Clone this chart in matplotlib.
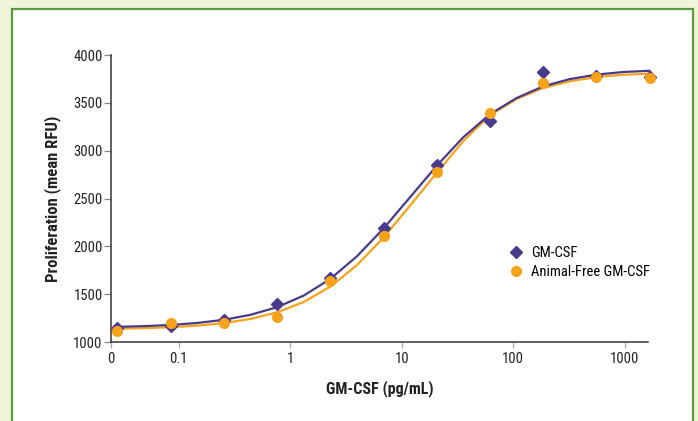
import matplotlib.pyplot as plt
import matplotlib.patches as patches
from matplotlib.ticker import FixedLocator, NullLocator
from matplotlib import font_manager

# 数据
conc = [0.0282, 0.0847, 0.254, 0.762, 2.29, 6.86, 20.6, 61.7, 185, 556, 1667]
gm_csf = [1150, 1167, 1230, 1397, 1672, 2189, 2850, 3310, 3820, 3778, 3765]
af_gm_csf = [1115, 1195, 1195, 1258, 1638, 2108, 2780, 3390, 3711, 3767, 3756]

# 拟合曲线（沿曲线读点）
fit_conc = [0.0282, 0.049, 0.0847, 0.147, 0.254, 0.44, 0.762, 1.32, 2.29, 3.96, 6.86,
            11.9, 20.6, 35.6, 61.7, 107, 185, 321, 556, 962, 1667]
gm_fit = [1158, 1166, 1178, 1199, 1232, 1284, 1364, 1485, 1660, 1895, 2186,
          2515, 2842, 3140, 3380, 3550, 3672, 3748, 3795, 3822, 3835]
af_fit = [1139, 1145, 1155, 1171, 1198, 1241, 1310, 1418, 1579, 1803, 2091,
          2427, 2767, 3100, 3370, 3540, 3655, 3725, 3770, 3793, 3805]

xtick_pos = [0.0247, 0.1, 1, 10, 100, 1000]
xtick_lab = ['0', '0.1', '1', '10', '100', '1000']
ytick_pos = [1000, 1500, 2000, 2500, 3000, 3500, 4000]

purple = '#4a3a8c'
orange = '#f7a21b'

# 找个窄体字
names = set(f.name for f in font_manager.fontManager.ttflist)
narrow = [n for n in ['Liberation Sans Narrow', 'Roboto Condensed', 'DejaVu Sans'] if n in names]
plt.rcParams['font.family'] = narrow
plt.rcParams['font.stretch'] = 'condensed'

fig = plt.figure(figsize=(6.98, 4.21), dpi=100, facecolor='#eef5d8')
# 白色面板 + 绿色边框
panel = patches.Rectangle((12 / 698, -0.05), (693 - 12) / 698, 1 - 9 / 421 + 0.05,
                          transform=fig.transFigure, facecolor='white',
                          edgecolor='#5b9a3e', linewidth=1.6, zorder=-10)
fig.patches.append(panel)

ax = fig.add_axes([111 / 698, 1 - 342 / 421, (648 - 111) / 698, (342 - 55) / 421])
ax.set_facecolor('none')

ax.plot(fit_conc, af_fit, color=orange, lw=1.6, zorder=2, clip_on=False)
ax.plot(fit_conc, gm_fit, color=purple, lw=1.6, zorder=3, clip_on=False)
ax.plot(conc, gm_csf, 'D', color=purple, ms=6, mec=purple, zorder=4,
        clip_on=False, label='GM-CSF')
ax.plot(conc, af_gm_csf, 'o', color=orange, ms=7, mec=orange, zorder=5,
        clip_on=False, label='Animal-Free GM-CSF')

ax.set_xscale('log')
ax.set_xlim(0.0247, 1615)
ax.set_ylim(1000, 4000)
ax.xaxis.set_major_locator(FixedLocator(xtick_pos))
ax.xaxis.set_minor_locator(NullLocator())
ax.set_xticklabels(xtick_lab)
ax.set_yticks(ytick_pos)

for s in ['top', 'right']:
    ax.spines[s].set_visible(False)
for s in ['left', 'bottom']:
    ax.spines[s].set_color('#444444')
    ax.spines[s].set_linewidth(1.2)
ax.tick_params(axis='y', length=5, width=0.9, color='#888888', labelsize=10.5,
               labelcolor='#222222', pad=1)
ax.tick_params(axis='x', length=4, width=0.9, color='#aaaaaa', labelsize=10.5,
               labelcolor='#222222', pad=3)

ax.set_ylabel('Proliferation (mean RFU)', fontsize=12, fontweight='bold',
              color='#222222', labelpad=9)
ax.set_xlabel('GM-CSF (pg/mL)', fontsize=11.5, fontweight='bold',
              color='#222222', labelpad=10)

ax.legend(loc='upper left', bbox_to_anchor=(0.73, 0.355), frameon=False,
          fontsize=10.5, handlelength=1.0, handletextpad=0.5, labelspacing=0.35,
          borderaxespad=0)

plt.savefig('out.png', dpi=100, facecolor=fig.get_facecolor())
